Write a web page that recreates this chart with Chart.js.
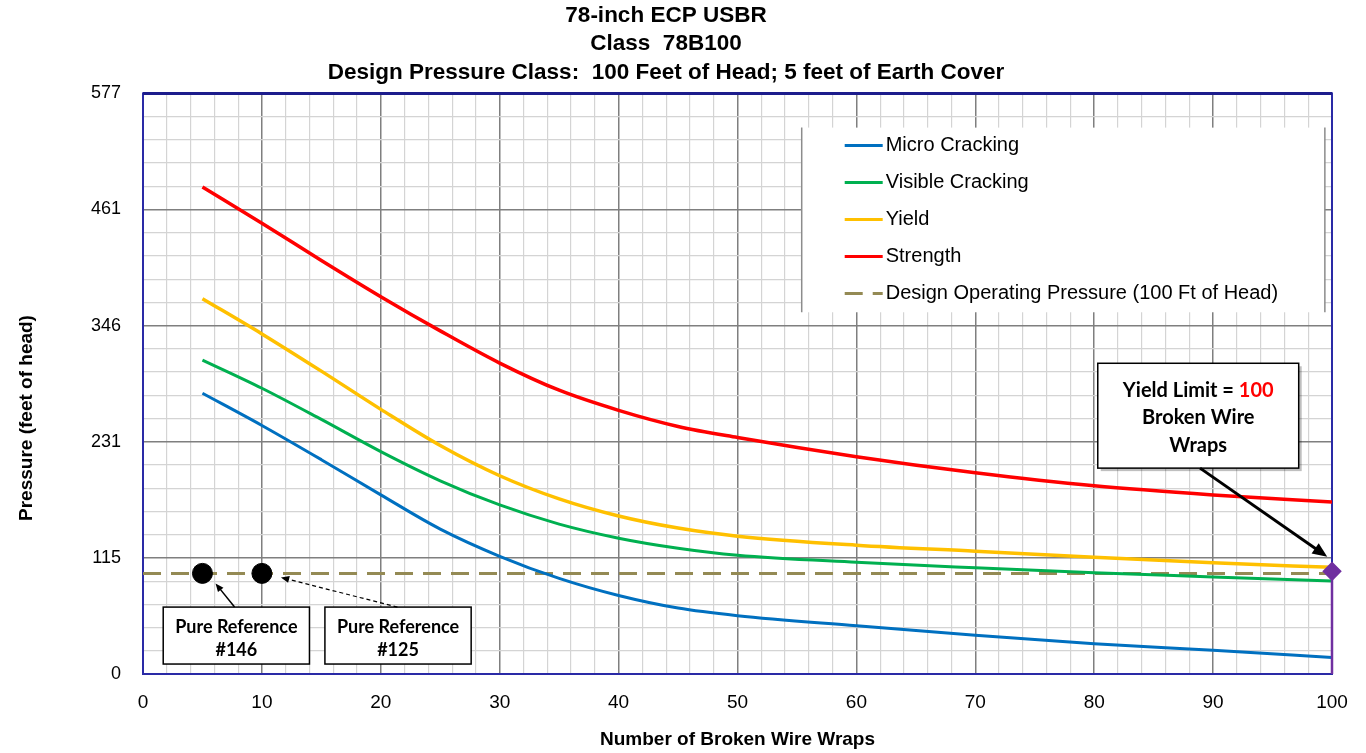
<!DOCTYPE html>
<html lang="en">
<head>
<meta charset="UTF-8" />
<title>78-inch ECP USBR - Broken Wire Wraps</title>
<style>
  body {
    margin: 0;
    background: #fff;
    font-family: 'Liberation Sans', Arial, sans-serif;
  }
</style>
</head>
<body>
<canvas id="wireChart" width="1366" height="753"></canvas>

<script src="https://cdn.jsdelivr.net/npm/chart.js"></script>
<script>
  // values
  const wraps = [5, 10, 15, 20, 25, 30, 35, 40, 45, 50, 60, 70, 80, 90, 100];
  const microCracking   = [279, 247, 213, 178, 144, 117, 95, 78, 65.5, 58, 48, 38.5, 30, 23.5, 16.5];
  const visibleCracking = [312, 284, 253, 221, 192, 168, 149, 135, 125, 118, 111, 105.5, 100.5, 96.5, 92.5];
  const yieldValues     = [373, 338, 301, 263, 227, 197, 174, 157, 145, 137, 128, 122, 116, 110.5, 106];
  const strength        = [484, 448, 411, 375, 341, 309, 282, 262, 246, 235, 216, 200, 187, 178, 171];

  const designX = [0, 100];
  const designPressure = [100, 100];
  const pureRefX = [5, 10];
  const pureRefY = [100, 100];
  const yieldLimitX = [100, 100];
  const yieldLimitY = [0, 102];

  const yTickLabels = ['0', '115', '231', '346', '461', '577'];
  const xTickLabels = ['0', '10', '20', '30', '40', '50', '60', '70', '80', '90', '100'];
  const yMax = 577;

  const toPoints = (xs, ys) => xs.map((x, i) => ({ x: x, y: ys[i] }));

  const FONT = "'Liberation Sans', Arial, sans-serif";
  const BOX_FONT = "Lato, 'Open Sans', sans-serif";

  // callouts, placed in data units
  const callouts = [
    { x0: 1.7, x1: 14.0, y0: 66.5, y1: 9.9, lines: ['Pure Reference', '#146'] },
    { x0: 15.3, x1: 27.6, y0: 66.5, y1: 9.9, lines: ['Pure Reference', '#125'] }
  ];
  const arrows = [
    { from: [7.7, 66.5], to: [6.1, 90.0], width: 1.5, dash: [], head: 9 },
    { from: [21.4, 66.5], to: [11.6, 96.0], width: 1.2, dash: [4, 3], head: 9 },
    { from: [88.9, 204.6], to: [99.6, 116.5], width: 3, dash: [], head: 16 }
  ];

  function drawArrow(ctx, x1, y1, x2, y2, w, dash, head) {
    const ang = Math.atan2(y2 - y1, x2 - x1);
    ctx.save();
    ctx.strokeStyle = '#000';
    ctx.fillStyle = '#000';
    ctx.lineWidth = w;
    ctx.setLineDash(dash);
    ctx.beginPath();
    ctx.moveTo(x1, y1);
    ctx.lineTo(x2 - Math.cos(ang) * head * 0.6, y2 - Math.sin(ang) * head * 0.6);
    ctx.stroke();
    ctx.setLineDash([]);
    ctx.beginPath();
    ctx.moveTo(x2, y2);
    ctx.lineTo(x2 - head * Math.cos(ang - 0.4), y2 - head * Math.sin(ang - 0.4));
    ctx.lineTo(x2 - head * Math.cos(ang + 0.4), y2 - head * Math.sin(ang + 0.4));
    ctx.closePath();
    ctx.fill();
    ctx.restore();
  }

  const decorations = {
    id: 'decorations',
    beforeDatasetsDraw(chart) {
      const { ctx, chartArea: a } = chart;
      ctx.save();
      ctx.strokeStyle = '#2a2aa6';
      ctx.lineWidth = 2;
      ctx.strokeRect(a.left, a.top, a.right - a.left, a.bottom - a.top);
      ctx.strokeStyle = '#1c1c8c';
      ctx.lineWidth = 3;
      ctx.beginPath();
      ctx.moveTo(a.left, a.top);
      ctx.lineTo(a.right, a.top);
      ctx.stroke();
      ctx.restore();
    },
    afterDraw(chart) {
      const { ctx, scales: { x, y } } = chart;

      // y axis title (sits a bit below the plot middle in the original)
      ctx.save();
      ctx.translate(27, 418);
      ctx.rotate(-Math.PI / 2);
      ctx.font = 'bold 19px ' + FONT;
      ctx.textAlign = 'center';
      ctx.textBaseline = 'middle';
      ctx.fillStyle = '#000';
      ctx.fillText('Pressure (feet of head)', 0, 0);
      ctx.restore();

      // legend box
      const lx0 = x.getPixelForValue(55.4), lx1 = x.getPixelForValue(99.4);
      const ly0 = y.getPixelForValue(543), ly1 = y.getPixelForValue(359.5);
      ctx.save();
      ctx.fillStyle = '#fff';
      ctx.fillRect(lx0, ly0, lx1 - lx0, ly1 - ly0);
      ctx.strokeStyle = '#8c8c8c';
      ctx.lineWidth = 1.5;
      ctx.beginPath();
      ctx.moveTo(lx0, ly0); ctx.lineTo(lx0, ly1);
      ctx.moveTo(lx1, ly0); ctx.lineTo(lx1, ly1);
      ctx.stroke();
      ctx.font = '20px ' + FONT;
      ctx.textBaseline = 'middle';
      ctx.fillStyle = '#000';
      chart.data.datasets.filter(d => d.inLegend).forEach((d, i) => {
        const yy = ly0 + 18 + i * 37;
        ctx.strokeStyle = d.borderColor;
        ctx.lineWidth = 3;
        ctx.setLineDash(d.borderDash || []);
        ctx.beginPath();
        ctx.moveTo(lx0 + 43, yy);
        ctx.lineTo(lx0 + 81, yy);
        ctx.stroke();
        ctx.setLineDash([]);
        ctx.fillText(d.label, lx0 + 84, yy);
      });
      ctx.restore();

      // pure reference callouts
      ctx.save();
      ctx.font = 'bold 18px ' + BOX_FONT;
      ctx.textAlign = 'center';
      ctx.textBaseline = 'middle';
      callouts.forEach(c => {
        const px0 = x.getPixelForValue(c.x0), px1 = x.getPixelForValue(c.x1);
        const py0 = y.getPixelForValue(c.y0), py1 = y.getPixelForValue(c.y1);
        ctx.fillStyle = '#fff';
        ctx.fillRect(px0, py0, px1 - px0, py1 - py0);
        ctx.strokeStyle = '#000';
        ctx.lineWidth = 1.5;
        ctx.strokeRect(px0, py0, px1 - px0, py1 - py0);
        ctx.fillStyle = '#000';
        const cx = (px0 + px1) / 2;
        ctx.fillText(c.lines[0], cx, py0 + 20);
        ctx.fillText(c.lines[1], cx, py0 + 43);
      });
      ctx.restore();

      // yield limit callout
      const bx0 = x.getPixelForValue(80.3), bx1 = x.getPixelForValue(97.2);
      const by0 = y.getPixelForValue(308.8), by1 = y.getPixelForValue(204.6);
      ctx.save();
      ctx.fillStyle = 'rgba(0,0,0,0.25)';
      ctx.fillRect(bx0 + 3, by0 + 3, bx1 - bx0, by1 - by0);
      ctx.fillStyle = '#fff';
      ctx.fillRect(bx0, by0, bx1 - bx0, by1 - by0);
      ctx.strokeStyle = '#000';
      ctx.lineWidth = 1.5;
      ctx.strokeRect(bx0, by0, bx1 - bx0, by1 - by0);
      ctx.font = 'bold 20px ' + BOX_FONT;
      ctx.textBaseline = 'middle';
      const cx = (bx0 + bx1) / 2;
      const part1 = 'Yield Limit = ', part2 = '100';
      const w1 = ctx.measureText(part1).width, w2 = ctx.measureText(part2).width;
      const sx = cx - (w1 + w2) / 2;
      ctx.textAlign = 'left';
      ctx.fillStyle = '#000';
      ctx.fillText(part1, sx, by0 + 27);
      ctx.fillStyle = '#ff0000';
      ctx.fillText(part2, sx + w1, by0 + 27);
      ctx.fillStyle = '#000';
      ctx.textAlign = 'center';
      ctx.fillText('Broken Wire', cx, by0 + 54);
      ctx.fillText('Wraps', cx, by0 + 82);
      ctx.restore();

      arrows.forEach(ar => {
        drawArrow(ctx,
          x.getPixelForValue(ar.from[0]), y.getPixelForValue(ar.from[1]),
          x.getPixelForValue(ar.to[0]), y.getPixelForValue(ar.to[1]),
          ar.width, ar.dash, ar.head);
      });
    }
  };

  const curve = (label, ys, color, width) => ({
    label: label,
    data: toPoints(wraps, ys),
    borderColor: color,
    borderWidth: width,
    pointRadius: 0,
    cubicInterpolationMode: 'monotone',
    inLegend: true
  });

  const ctx = document.getElementById('wireChart').getContext('2d');
  const wireChart = new Chart(ctx, {
    type: 'line',
    data: {
      datasets: [
        curve('Micro Cracking', microCracking, '#0070c0', 3),
        curve('Visible Cracking', visibleCracking, '#00b050', 3),
        curve('Yield', yieldValues, '#ffc000', 3.5),
        curve('Strength', strength, '#ff0000', 3.5),
        {
          label: 'Design Operating Pressure (100 Ft of Head)',
          data: toPoints(designX, designPressure),
          borderColor: '#948a54',
          borderWidth: 3,
          borderDash: [18, 10],
          pointRadius: 0,
          inLegend: true
        },
        {
          label: 'Pure Reference',
          data: toPoints(pureRefX, pureRefY),
          showLine: false,
          pointRadius: 10,
          pointBackgroundColor: '#000',
          pointBorderColor: '#000',
          order: -1
        },
        {
          label: 'Yield Limit',
          data: toPoints(yieldLimitX, yieldLimitY),
          borderColor: '#7030a0',
          borderWidth: 2.5,
          pointStyle: 'rectRot',
          pointRadius: [0, 8],
          pointBackgroundColor: '#7030a0',
          pointBorderColor: '#7030a0',
          clip: false,
          order: -1
        }
      ]
    },
    options: {
      responsive: false,
      animation: false,
      layout: { padding: { right: 34, top: 0, bottom: 0, left: 0 } },
      plugins: {
        legend: { display: false },
        tooltip: { enabled: false },
        title: {
          display: true,
          text: ['78-inch ECP USBR', 'Class  78B100', 'Design Pressure Class:  100 Feet of Head; 5 feet of Earth Cover'],
          color: '#000',
          font: { family: FONT, size: 22.5, weight: 'bold', lineHeight: 1.28 },
          padding: { top: 1, bottom: 6 }
        }
      },
      scales: {
        x: {
          type: 'linear',
          min: 0,
          max: 100,
          afterFit: s => { s.height = 79; },
          border: { display: false },
          grid: {
            drawTicks: false,
            color: c => (Math.round(c.tick.value) % 10 === 0 ? '#7f7f7f' : '#d4d4d4'),
            lineWidth: c => (Math.round(c.tick.value) % 10 === 0 ? 1.5 : 1.2)
          },
          ticks: {
            stepSize: 2,
            autoSkip: false,
            maxRotation: 0,
            padding: 17,
            color: '#000',
            font: { family: FONT, size: 19 },
            callback: v => (Math.round(v) % 10 === 0 ? xTickLabels[Math.round(v) / 10] : '')
          },
          title: {
            display: true,
            text: 'Number of Broken Wire Wraps',
            color: '#000',
            font: { family: FONT, size: 19, weight: 'bold' },
            padding: { top: 6, bottom: 2 }
          }
        },
        y: {
          type: 'linear',
          min: 0,
          max: yMax,
          afterFit: s => { s.width = 143; },
          afterBuildTicks: s => {
            s.ticks = Array.from({ length: 26 }, (_, i) => ({ value: i * yMax / 25 }));
          },
          border: { display: false },
          grid: {
            drawTicks: false,
            color: c => (c.index % 5 === 0 ? '#7f7f7f' : '#d4d4d4'),
            lineWidth: c => (c.index % 5 === 0 ? 1.5 : 1.2)
          },
          ticks: {
            autoSkip: false,
            padding: 22,
            color: '#000',
            font: { family: FONT, size: 18 },
            callback: (v, i) => (i % 5 === 0 ? yTickLabels[i / 5] : '')
          }
        }
      }
    },
    plugins: [decorations]
  });
</script>
</body>
</html>
